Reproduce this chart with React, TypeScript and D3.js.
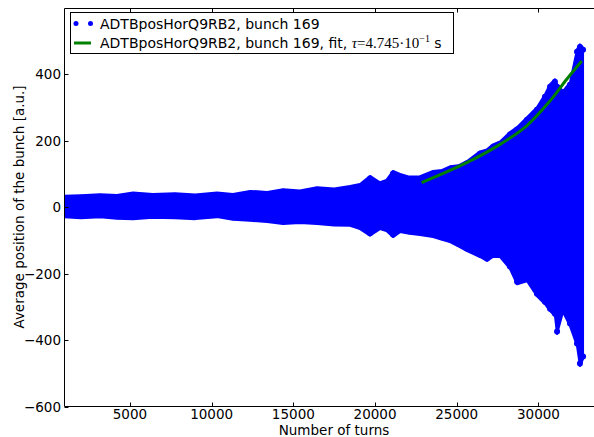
import React from 'react';
import * as d3 from 'd3';

const envTurns = [1000, 2000, 3170, 4200, 5190, 6400, 7760, 9000, 10330, 11300, 12350, 13400, 14370, 15400, 16450, 17500, 18470, 19080, 19690, 20300, 20700, 21100, 21530, 22100, 22750, 23550, 24100, 24590, 25100, 25630, 26420, 26850, 27220, 27650, 28260, 28690, 29300, 29910, 30400, 30710, 31010, 31140, 31500, 31930, 32360, 32540, 32730];
const envUpper = [34, 36, 39, 37, 44, 40, 42, 38, 44, 40, 49, 46, 54, 50, 60, 56, 64, 70, 94, 75, 82, 109, 100, 92, 93, 109, 112, 123, 126, 139, 168, 174, 189, 198, 226, 241, 271, 301, 340, 370, 385, 370, 349, 376, 475, 490, 481];
const envLower = [-30, -33, -30, -35, -36, -32, -33, -36, -30, -38, -41, -45, -51, -48, -51, -55, -56, -66, -86, -66, -72, -90, -75, -80, -84, -90, -98, -105, -118, -132, -150, -162, -150, -150, -186, -232, -223, -268, -292, -313, -328, -382, -316, -358, -418, -478, -457];

const fitTurns = [22850, 25610, 27650, 29280, 30710, 31730, 32650];
const fitValues = [74, 134, 189, 245, 320, 385, 440];

const xTicks = [5000, 10000, 15000, 20000, 25000, 30000];
const yTicks = [-600, -400, -200, 0, 200, 400];

const legendData = 'ADTBposHorQ9RB2, bunch 169';
const legendFit = 'ADTBposHorQ9RB2, bunch 169, fit, ';
const xLabel = 'Number of turns';
const yLabel = 'Average position of the bunch [a.u.]';

const W = 594;
const H = 437;
const BLUE = '#0000ff';
const GREEN = '#008000';
const FONT = 'DejaVu Sans';
const FS = 13.5;

export default function App() {
  const x = d3.scaleLinear().domain([1000, 34000]).range([64.6, 603.8]);
  const y = d3.scaleLinear().domain([-600, 598]).range([406.5, 8.5]);
  const left = 64.5, top = 8.5, bottom = 406.5, right = 603.8;

  const env = envTurns.map((t, i) => ({ t, u: envUpper[i], l: envLower[i] }));
  const area = d3.area<{ t: number; u: number; l: number }>()
    .x(d => x(d.t)).y0(d => y(d.l)).y1(d => y(d.u));
  const fitLine = d3.line<number>().x((_, i) => x(fitTurns[i])).y(d => y(d)).curve(d3.curveCatmullRom);

  return (
    <svg width={W} height={H} style={{ position: 'fixed', left: 0, top: 0, background: '#fff' }} fontFamily={FONT}>
      <rect x={0} y={0} width={W} height={H} fill="#fff" />
      <defs>
        <clipPath id="plot"><rect x={left} y={top} width={right - left} height={bottom - top} /></clipPath>
      </defs>
      <g clipPath="url(#plot)">
        <path d={area(env) || ''} fill={BLUE} stroke={BLUE} strokeWidth={2} strokeLinejoin="round" />
        {env.map((d, i) => (
          <g key={i}>
            <circle cx={x(d.t)} cy={y(d.u) + 2.5} r={3} fill={BLUE} />
            <circle cx={x(d.t)} cy={y(d.l) - 2.5} r={3} fill={BLUE} />
          </g>
        ))}
        <path d={fitLine(fitValues) || ''} fill="none" stroke={GREEN} strokeWidth={3} />
      </g>
      {/* spines */}
      <line x1={left} x2={left} y1={top} y2={bottom} stroke="#000" />
      <line x1={left} x2={right} y1={bottom} y2={bottom} stroke="#000" />
      <line x1={left} x2={right} y1={top} y2={top} stroke="#000" />
      {/* ticks */}
      {xTicks.map(t => (
        <g key={t}>
          <line x1={Math.round(x(t)) + 0.5} x2={Math.round(x(t)) + 0.5} y1={bottom} y2={bottom - 4} stroke="#000" />
          <line x1={Math.round(x(t)) + 0.5} x2={Math.round(x(t)) + 0.5} y1={top} y2={top + 4} stroke="#000" />
          <text x={x(t)} y={418.5} fontSize={FS} textAnchor="middle">{t}</text>
        </g>
      ))}
      {yTicks.map(t => (
        <g key={t}>
          <line x1={left} x2={left + 4} y1={Math.round(y(t)) + 0.5} y2={Math.round(y(t)) + 0.5} stroke="#000" />
          <text x={61} y={y(t) + 5} fontSize={FS} textAnchor="end">{t < 0 ? '\u2212' + Math.abs(t) : t}</text>
        </g>
      ))}
      <text x={334} y={434.5} fontSize={FS} textAnchor="middle">{xLabel}</text>
      <text transform="translate(24,207) rotate(-90)" fontSize={FS} textAnchor="middle">{yLabel}</text>
      {/* legend */}
      <rect x={70.5} y={12.5} width={383} height={41} fill="#fff" stroke="#000" />
      <circle cx={76} cy={23.5} r={2.5} fill={BLUE} />
      <circle cx={90.5} cy={23.5} r={2.5} fill={BLUE} />
      <line x1={74} x2={91} y1={43} y2={43} stroke={GREEN} strokeWidth={3} />
      <text x={100} y={28.5} fontSize={14}>{legendData}</text>
      <text x={100} y={48} fontSize={14}>
        {legendFit}
        <tspan fontFamily="Liberation Serif" fontStyle="italic" fontSize={15}>τ</tspan>
        <tspan fontFamily="Liberation Serif" fontSize={15}>=4.745·10</tspan>
        <tspan fontFamily="Liberation Serif" fontSize={10} dy={-6}>−1</tspan>
        <tspan dy={6}>{'  s'}</tspan>
      </text>
    </svg>
  );
}
